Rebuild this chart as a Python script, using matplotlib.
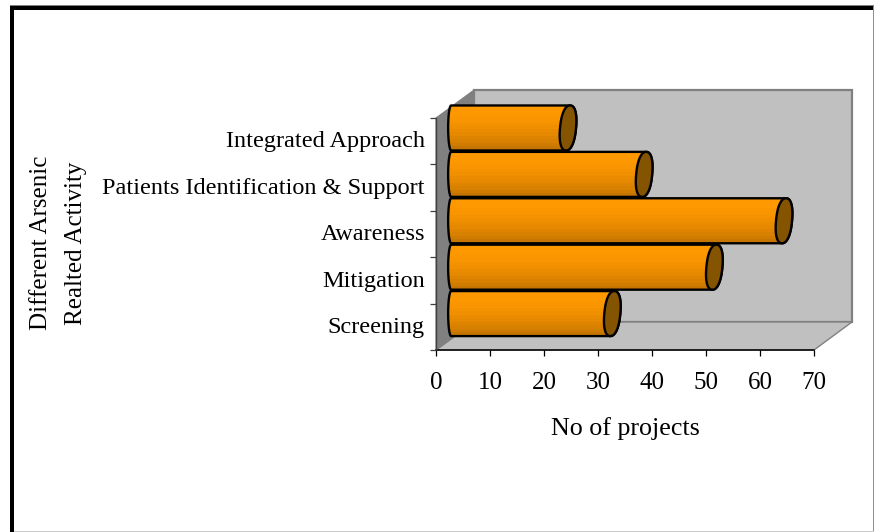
import numpy as np
import matplotlib
matplotlib.use("Agg")
import matplotlib.pyplot as plt
from matplotlib.patches import Polygon, Rectangle

categories = ["Screening", "Mitigation", "Awareness", "Patients Identification & Support", "Integrated Approach"]
values = [30.4, 49.3, 62.2, 36.3, 22.2]
x_ticks = [0, 10, 20, 30, 40, 50, 60, 70]
x_label = "No of projects"
y_label_lines = ["Different Arsenic", "Realted Activity"]

W, H = 874, 532
plt.rcParams['font.family'] = ['Liberation Serif', 'DejaVu Serif']
fig = plt.figure(figsize=(W/100, H/100), dpi=100)

# outer frame
for (x, y, w, h, c) in [(10, 5, 864, 1.5, '#808080'), (10, 6, 864, 4, 'black'), (10, 6, 4, 526, 'black'),
                        (872.6, 6, 1.4, 526, '#909090'), (14, 530.8, 860, 1.2, '#c8c8c8')]:
    fig.add_artist(Rectangle((x/W, 1-(y+h)/H), w/W, h/H, transform=fig.transFigure, fc=c, ec='none'))

L, R, T, B = 436, 814, 118, 350
ax = fig.add_axes([L/W, 1-B/H, (R-L)/W, (B-T)/H])
ax.patch.set_alpha(0)
for s in ax.spines.values():
    s.set_visible(False)

dx, dy = 38/5.4, 28/46.4     # depth of the box in data units
xm, ym = 70, 5
wall_edge = '#808080'
ax.add_patch(Polygon([(dx, dy), (xm+dx, dy), (xm+dx, ym+dy), (dx, ym+dy)], fc='#c0c0c0', ec=wall_edge, lw=1.6, clip_on=False, zorder=1))
ax.add_patch(Polygon([(0, 0), (xm, 0), (xm+dx, dy), (dx, dy)], fc='#c0c0c0', ec=wall_edge, lw=1.0, clip_on=False, zorder=1.1))
ax.add_patch(Polygon([(0, 0), (dx, dy), (dx, ym+dy), (0, ym)], fc='#808080', ec='#808080', lw=0.8, clip_on=False, zorder=1.2))

# front axis lines
ax.plot([0, xm], [0, 0], color='black', lw=1.1, clip_on=False, zorder=1.5)
ax.plot([0, 0], [0, ym], color='#404040', lw=1.0, clip_on=False, zorder=1.5)

x0 = 2.25      # bar base offset
yc0 = 0.785    # first bar centre
bar_h = 0.97
ry = bar_h/2
cap_rx = 8/5.4
base_rx = 3/5.4
skew = 2.0/5.4
p = 0.88       # slightly fuller than an ellipse
top_rgb = np.array([1.0, 0.6, 0.0])
bot_rgb = np.array([0.78, 0.46, 0.0])


def cap_pts(xe, yc, ang):
    c, s = np.cos(ang), np.sin(ang)
    cx = np.sign(c)*np.abs(c)**p
    sy = np.sign(s)*np.abs(s)**p
    return list(zip(xe + cap_rx*cx + skew*sy, yc + ry*sy))


for i, v in enumerate(values):
    yc = i + yc0
    xe = x0 + v
    right = cap_pts(xe, yc, np.linspace(np.pi/2, -np.pi/2, 50))
    a = np.linspace(-np.pi/2, -3*np.pi/2, 40)
    left = list(zip(x0 + base_rx + base_rx*np.cos(a), yc + ry*np.sin(a)))
    outline = right + left
    poly = Polygon(outline, closed=True, fc='none', ec='none', clip_on=False, zorder=3)
    ax.add_patch(poly)
    f = np.linspace(0, 1, 13)[:, None]
    grad = (top_rgb*(1-f*f) + bot_rgb*(f*f))[:, None, :]
    im = ax.imshow(grad, extent=(x0, xe+cap_rx+1, yc-ry, yc+ry), origin='upper', aspect='auto', zorder=3, interpolation='nearest')
    im.set_clip_box(fig.bbox)
    im.set_clip_path(poly)
    ax.add_patch(Polygon(outline, closed=True, fc='none', ec='black', lw=1.7, clip_on=False, zorder=4, joinstyle='round'))
    cap = cap_pts(xe, yc, np.linspace(0, 2*np.pi, 100))
    ax.add_patch(Polygon(cap, closed=True, fc='#855400', ec='black', lw=1.7, clip_on=False, zorder=5))

ax.set_xlim(0, 70)
ax.set_ylim(0, 5)
ax.set_xticks(x_ticks)
ax.set_yticks(range(6))
ax.set_yticklabels([])
ax.set_yticks(np.arange(5) + 0.54, categories, minor=True)
ax.tick_params(axis='y', which='major', length=4.5, width=0.9, color='#404040')
ax.tick_params(axis='y', which='minor', length=0, pad=8, labelsize=17.5)
ax.tick_params(axis='x', length=4.5, width=0.9, pad=11, labelsize=18)

ax.set_xlabel(x_label, fontsize=18.7, labelpad=17)
fig.text(41/W, 1-243/H, y_label_lines[0], rotation=90, ha='center', va='center', fontsize=18)
fig.text(76/W, 1-243/H, y_label_lines[1], rotation=90, ha='center', va='center', fontsize=18)

fig.savefig("out.png", dpi=100)
